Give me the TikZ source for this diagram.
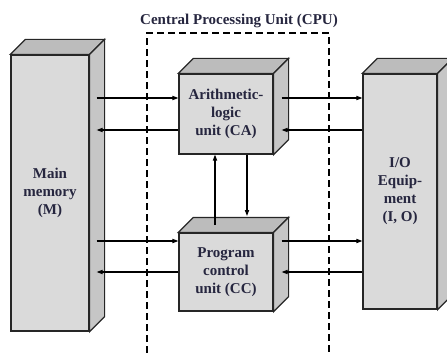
\documentclass[tikz,border=0pt]{standalone}
\usepackage{fontspec}
\setmainfont{Liberation Serif}
\usetikzlibrary{arrows.meta}
\definecolor{facefront}{HTML}{DADADA}
\definecolor{facetop}{HTML}{BCBCBC}
\definecolor{faceside}{HTML}{C6C6C6}
\definecolor{ink}{HTML}{26263F}
\tikzset{
  front/.style={draw=black!85, fill=facefront, line width=1.2pt, inner sep=0pt,
    align=center, text=ink, font=\fontsize{15}{18}\selectfont\bfseries},
  link/.style={line width=1.1pt, -{Triangle[length=6pt,width=4.2pt]}},
  cpuframe/.style={line width=1.1pt, dash pattern=on 7pt off 4pt},
}
% extruded faces behind a front-face node
\newcommand\boxdepth[1]{%
  \fill[facetop, draw=black!85, line width=1.2pt, line join=miter]
    (#1.north west) -- ++(15,-15) -- ([shift={(15,-15)}]#1.north east) -- (#1.north east) -- cycle;
  \fill[faceside, draw=black!85, line width=1.2pt, line join=miter]
    (#1.north east) -- ++(15,-15) -- ([shift={(15,-15)}]#1.south east) -- (#1.south east) -- cycle;
}
\begin{document}
\begin{tikzpicture}[x=1pt, y=-1pt]
\useasboundingbox (0,0) rectangle (447,353);

% title and CPU frame
\node[text=ink, font=\fontsize{15}{18}\selectfont\bfseries] (title) at (239,21) {Central Processing Unit (CPU)};
\draw[cpuframe] (147,353) -- (147,33) -- (329,33) -- (329,353);

% units
\node[front, minimum width=78pt, minimum height=276pt] (mem) at (50,193) {Main\\memory\\(M)};
\node[front, minimum width=94pt, minimum height=80pt] (alu) at (226,114) {Arithmetic-\\logic\\unit (CA)};
\node[front, minimum width=94pt, minimum height=78pt] (pcu) at (226,272) {Program\\control\\unit (CC)};
\node[front, minimum width=74pt, minimum height=235pt] (io) at (400,191.5) {I/O\\Equip-\\ment\\(I, O)};
\boxdepth{mem}
\boxdepth{alu}
\boxdepth{pcu}
\boxdepth{io}

% anchor points on the side faces
\coordinate (m1) at ([xshift=7pt]mem.east |- 0,98);
\coordinate (m2) at ([xshift=7pt]mem.east |- 0,130);
\coordinate (m3) at ([xshift=7pt]mem.east |- 0,241);
\coordinate (m4) at ([xshift=7pt]mem.east |- 0,272);
\coordinate (a1) at ([xshift=8pt]alu.east |- m1);
\coordinate (a2) at ([xshift=8pt]alu.east |- m2);
\coordinate (p1) at ([xshift=8pt]pcu.east |- m3);
\coordinate (p2) at ([xshift=8pt]pcu.east |- m4);
\coordinate (pu) at (215,225);
\coordinate (pd) at (247,216);

% memory <-> CPU
\draw[link] (m1) -- (alu.west |- m1);
\draw[link] (alu.west |- m2) -- (m2);
\draw[link] (m3) -- (pcu.west |- m3);
\draw[link] (pcu.west |- m4) -- (m4);

% CPU <-> I/O
\draw[link] (a1) -- (io.west |- a1);
\draw[link] (io.west |- a2) -- (a2);
\draw[link] (p1) -- (io.west |- p1);
\draw[link] (io.west |- p2) -- (p2);

% control <-> arithmetic
\draw[link] (pu) -- (alu.south -| pu);
\draw[link] (alu.south -| pd) -- (pd);
\end{tikzpicture}
\end{document}
